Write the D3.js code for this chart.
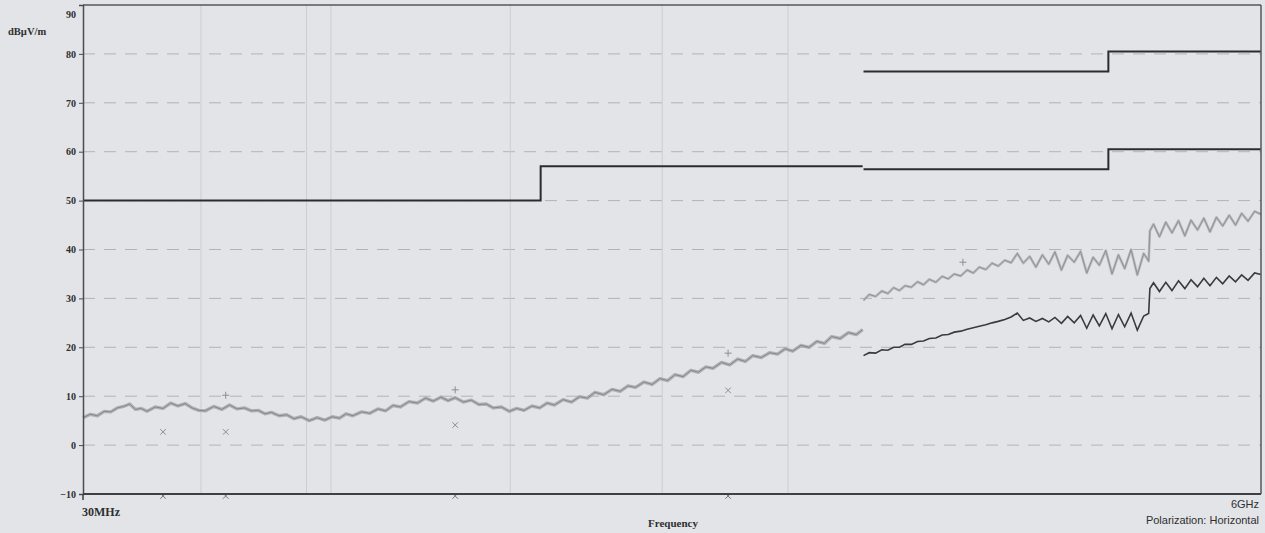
<!DOCTYPE html>
<html>
<head>
<meta charset="utf-8">
<script src="https://cdn.jsdelivr.net/npm/d3@7/dist/d3.min.js"></script>
<style>
  body { margin: 0; background: #e2e4e7; }
  svg { display: block; }
</style>
</head>
<body>
<script>
'use strict';

// y axis ticks
var yTicks = [-10, 0, 10, 20, 30, 40, 50, 60, 70, 80, 90];
// faint vertical lines seen on the print (MHz)
var vGrid = [51, 82, 91.5, 205, 406, 715];

// limit lines, [MHz, dBuV/m]
var avgLimitLow = [[30, 50], [235, 50], [235, 57], [1000, 57]];
var avgLimitHigh = [[1004, 56.4], [3020, 56.4], [3020, 60.5], [6000, 60.5]];
var pkLimitHigh = [[1004, 76.4], [3020, 76.4], [3020, 80.5], [6000, 80.5]];

// peak scan 30MHz - 1GHz
var lowFreq = [30, 31, 32, 33, 34, 35, 36, 37, 38, 39, 40, 41.5, 43, 44.5, 46, 47.5, 49, 50.5, 52, 54,
  56, 58, 60, 62, 64, 66, 68, 70, 72.5, 75, 77.5, 80, 83, 86, 89, 92, 95, 98, 101, 105,
  109, 113, 117, 121, 125, 130, 135, 140, 145, 150, 155, 160, 166, 172, 178, 184, 190, 197, 204, 211,
  218, 226, 234, 242, 250, 260, 270, 280, 290, 300, 312, 324, 336, 348, 360, 374, 388, 402, 416, 430,
  446, 462, 478, 494, 510, 530, 550, 570, 590, 610, 634, 658, 682, 706, 730, 758, 786, 814, 842, 870,
  904, 938, 972, 1000];
var lowPeak = [5.6, 6.3, 6.0, 6.9, 6.8, 7.6, 7.9, 8.4, 7.3, 7.5, 6.9, 7.8, 7.5, 8.6, 8.0, 8.5, 7.6, 7.1, 7.0, 7.9,
  7.3, 8.2, 7.4, 7.6, 7.0, 7.1, 6.4, 6.7, 6.0, 6.2, 5.4, 5.8, 5.0, 5.6, 5.1, 5.8, 5.5, 6.4, 6.0, 6.8,
  6.5, 7.4, 7.0, 8.1, 7.8, 8.9, 8.6, 9.6, 9.0, 9.8, 9.1, 9.7, 8.8, 9.2, 8.3, 8.4, 7.6, 7.8, 6.9, 7.5,
  7.1, 8.0, 7.6, 8.6, 8.2, 9.3, 8.8, 9.9, 9.6, 10.8, 10.3, 11.4, 11.0, 12.1, 11.8, 12.9, 12.4, 13.6, 13.2, 14.4,
  14.0, 15.3, 14.9, 16.0, 15.7, 16.9, 16.4, 17.6, 17.1, 18.3, 17.9, 18.9, 18.6, 19.7, 19.2, 20.4, 20.0, 21.2, 20.8, 22.2,
  21.8, 23.0, 22.6, 23.6];

// 1GHz - 6GHz scans
var highFreq = [1004, 1030, 1060, 1090, 1120, 1150, 1180, 1210, 1245, 1280, 1315, 1350, 1390, 1430, 1470, 1510,
  1555, 1600, 1645, 1690, 1740, 1790, 1840, 1895, 1950, 2005, 2060, 2120, 2180, 2245, 2310, 2375, 2445,
  2515, 2590, 2665, 2740, 2820, 2900, 2985, 3070, 3160, 3250, 3345, 3440, 3540, 3620, 3640, 3700, 3800,
  3910, 4020, 4140, 4260, 4380, 4510, 4640, 4770, 4910, 5050, 5200, 5350, 5500, 5660, 5830, 6000];
var highPeak = [29.6, 30.8, 30.4, 31.5, 31.0, 32.2, 31.6, 32.6, 32.3, 33.4, 32.8, 33.9, 33.3, 34.5, 34.0, 35.0,
  34.6, 35.8, 35.2, 36.4, 35.9, 37.2, 36.6, 37.8, 37.3, 39.2, 37.2, 38.6, 36.4, 38.9, 37.0, 39.5, 35.8,
  38.8, 37.4, 39.6, 35.2, 38.4, 36.8, 39.8, 35.0, 38.9, 36.1, 40.0, 34.8, 39.2, 37.6, 43.8, 45.2, 42.6,
  45.6, 43.4, 45.9, 42.8, 46.0, 44.0, 46.4, 43.6, 46.6, 44.8, 47.0, 45.0, 47.4, 45.8, 47.8, 47.2];
var highAvg = [18.3, 18.9, 18.8, 19.5, 19.4, 20.0, 20.0, 20.6, 20.6, 21.2, 21.3, 21.8, 21.9, 22.5, 22.6, 23.1,
  23.3, 23.7, 24.0, 24.3, 24.6, 25.0, 25.3, 25.7, 26.2, 27.0, 25.5, 26.0, 25.3, 25.9, 25.2, 26.1, 24.9,
  26.3, 25.0, 26.5, 23.9, 26.6, 24.4, 26.9, 23.8, 26.7, 24.2, 27.0, 23.5, 26.4, 26.9, 32.0, 33.2, 31.4,
  33.3, 31.6, 33.6, 32.0, 33.8, 32.4, 34.1, 32.6, 34.3, 33.0, 34.6, 33.4, 34.8, 33.7, 35.2, 34.9];

// markers
var peakMarks = [[57, 10.2], [160, 11.3], [546, 18.8], [1570, 37.4]];
var qpMarks = [[43, 2.7], [57, 2.7], [160, 4.1], [546, 11.2]];
var baseMarks = [43, 57, 160, 546];

var width = 1265, height = 533;
var padL = 83, padR = 1261, padT = 5, padB = 494;

var svg = d3.select('body').append('svg')
  .attr('width', width)
  .attr('height', height);

var x = d3.scaleLog().domain([30, 6000]).range([padL, padR]);
var y = d3.scaleLinear().domain([-10, 90]).range([padB, padT]);

// grid
svg.append('g').selectAll('line')
    .data(yTicks.filter(function(d){ return d > -10 && d < 90; }))
  .enter().append('line')
    .attr('x1', padL).attr('x2', padR)
    .attr('y1', function(d){ return y(d); })
    .attr('y2', function(d){ return y(d); })
    .attr('stroke', '#b0b4b9')
    .attr('stroke-width', 1)
    .attr('stroke-dasharray', '12,9');

svg.append('g').selectAll('line')
    .data(vGrid)
  .enter().append('line')
    .attr('x1', function(d){ return x(d); })
    .attr('x2', function(d){ return x(d); })
    .attr('y1', padT).attr('y2', padB)
    .attr('stroke', '#caced2')
    .attr('stroke-width', 1);

var line = d3.line()
  .x(function(d){ return x(d[0]); })
  .y(function(d){ return y(d[1]); });

function zip(f, v){
  return f.map(function(d, i){ return [d, v[i]]; });
}

// traces: peak drawn as a soft band with a thin core
function trace(data, band, core, bw, cw){
  svg.append('path')
    .attr('d', line(data))
    .attr('fill', 'none')
    .attr('stroke', band)
    .attr('stroke-width', bw)
    .attr('stroke-linejoin', 'round')
    .attr('stroke-opacity', 0.8);
  svg.append('path')
    .attr('d', line(data))
    .attr('fill', 'none')
    .attr('stroke', core)
    .attr('stroke-width', cw);
}

trace(zip(lowFreq, lowPeak), '#a4a6a9', '#85878a', 3.4, 1);
trace(zip(highFreq, highPeak), '#adafb2', '#8f9194', 2.6, 1);

svg.append('path')
  .attr('d', line(zip(highFreq, highAvg)))
  .attr('fill', 'none')
  .attr('stroke', '#3a3a3c')
  .attr('stroke-width', 1.6);

// limits
[avgLimitLow, avgLimitHigh, pkLimitHigh].forEach(function(seg){
  svg.append('path')
    .attr('d', line(seg))
    .attr('fill', 'none')
    .attr('stroke', '#2b2c2e')
    .attr('stroke-width', 2);
});

// markers
var xSym = d3.symbol().type(d3.symbolX).size(22);
var pSym = d3.symbol().type(d3.symbolPlus).size(18);

svg.append('g').selectAll('path')
    .data(peakMarks)
  .enter().append('path')
    .attr('d', pSym)
    .attr('transform', function(d){ return 'translate(' + x(d[0]) + ',' + y(d[1]) + ')'; })
    .attr('fill', 'none')
    .attr('stroke', '#8c8e91')
    .attr('stroke-width', 1);

svg.append('g').selectAll('path')
    .data(qpMarks)
  .enter().append('path')
    .attr('d', xSym)
    .attr('transform', function(d){ return 'translate(' + x(d[0]) + ',' + y(d[1]) + ')'; })
    .attr('fill', 'none')
    .attr('stroke', '#8c8e91')
    .attr('stroke-width', 1);

svg.append('g').selectAll('path')
    .data(baseMarks)
  .enter().append('path')
    .attr('d', xSym)
    .attr('transform', function(d){ return 'translate(' + x(d) + ',' + (padB + 2) + ')'; })
    .attr('fill', 'none')
    .attr('stroke', '#76787b')
    .attr('stroke-width', 1);

// frame
svg.append('line')
  .attr('x1', padL).attr('x2', padR).attr('y1', padT).attr('y2', padT)
  .attr('stroke', '#555759').attr('stroke-width', 1.5);
svg.append('line')
  .attr('x1', padR).attr('x2', padR).attr('y1', padT).attr('y2', padB)
  .attr('stroke', '#555759').attr('stroke-width', 1.5);

// y axis
var yAxis = d3.axisLeft(y).tickValues(yTicks).tickSize(4).tickPadding(3);
var gy = svg.append('g')
  .attr('transform', 'translate(' + padL + ',0)')
  .call(yAxis);
gy.select('.domain').attr('stroke', '#4a4c4e').attr('stroke-width', 1.5);
gy.selectAll('.tick line').attr('stroke', '#4a4c4e');
gy.selectAll('.tick text')
  .attr('fill', '#2e2f31')
  .style('font-family', '"Liberation Serif", serif')
  .style('font-weight', 'bold')
  .style('font-size', '10px');
gy.selectAll('.tick').filter(function(d){ return d === 90; })
  .select('text').attr('dy', '1.2em');

// x axis line
svg.append('line')
  .attr('x1', padL).attr('x2', padR).attr('y1', padB).attr('y2', padB)
  .attr('stroke', '#3e4042').attr('stroke-width', 2);
svg.append('line')
  .attr('x1', padL).attr('x2', padL).attr('y1', padB).attr('y2', padB + 6)
  .attr('stroke', '#3e4042').attr('stroke-width', 1.5);

// texts
var serif = '"Liberation Serif", serif';
var sans = '"Liberation Sans", Arial, sans-serif';
svg.append('text')
  .attr('x', 8).attr('y', 35)
  .style('font-family', serif).style('font-weight', 'bold').style('font-size', '10.5px')
  .attr('fill', '#2e2f31')
  .text('dBµV/m');

svg.append('text')
  .attr('x', padL - 1).attr('y', 516)
  .style('font-family', serif).style('font-weight', 'bold').style('font-size', '12px')
  .attr('fill', '#2e2f31')
  .text('30MHz');

svg.append('text')
  .attr('x', 1259).attr('y', 508)
  .attr('text-anchor', 'end')
  .style('font-family', sans).style('font-size', '11px')
  .attr('fill', '#2e2f31')
  .text('6GHz');

svg.append('text')
  .attr('x', 1259).attr('y', 524)
  .attr('text-anchor', 'end')
  .style('font-family', sans).style('font-size', '11px')
  .attr('fill', '#2e2f31')
  .text('Polarization: Horizontal');

svg.append('text')
  .attr('x', 673).attr('y', 527)
  .attr('text-anchor', 'middle')
  .style('font-family', serif).style('font-weight', 'bold').style('font-size', '11px')
  .attr('fill', '#2e2f31')
  .text('Frequency');
</script>
</body>
</html>
